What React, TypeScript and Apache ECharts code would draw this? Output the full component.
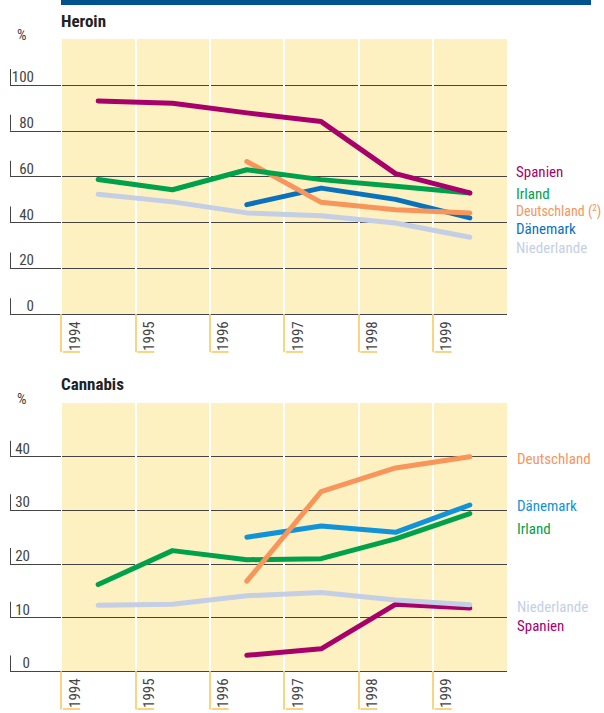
import React, { useEffect, useRef } from 'react';
import * as echarts from 'echarts';

// ---------- data ----------
const years = [1994, 1995, 1996, 1997, 1998, 1999];

const heroinSpanien = [93, 92, 87.8, 84, 61.3, 52.9];
const heroinIrland = [58.8, 54.3, 63, 58.7, 55.8, 52.9];
const heroinDeutschland = [null, null, 66.6, 48.8, 45.6, 44.2];
const heroinDaenemark = [null, null, 47.8, 55, 50.1, 42];
const heroinNiederlande = [52.3, 49, 44.2, 43, 39.8, 33.6];

const cannabisDeutschland = [null, null, 16.8, 33.5, 37.9, 40];
const cannabisDaenemark = [null, null, 25, 27.1, 25.9, 31];
const cannabisIrland = [16.2, 22.5, 20.8, 21, 24.7, 29.4];
const cannabisNiederlande = [12.3, 12.5, 14.1, 14.7, 13.3, 12.4];
const cannabisSpanien = [null, null, 3, 4.2, 12.5, 11.8];

const heroinTicks = [0, 20, 40, 60, 80, 100];
const cannabisTicks = [0, 10, 20, 30, 40];

const heroinTitle = 'Heroin';
const cannabisTitle = 'Cannabis';

// ---------- styles ----------
const FONT = "'Liberation Sans Narrow', 'Arial Narrow', 'Roboto Condensed', Roboto, sans-serif";
const COL = {
  spanien: '#a8006a',
  irland: '#00a14b',
  deutschland: '#f7955b',
  daenemarkH: '#0a72bd',
  daenemarkC: '#1193da',
  niederlande: '#c4cfe6',
  bg: '#fdf0c1',
  bracket: '#fcd37e',
  grid: '#444',
  text: '#444',
};

const bounds = years.map((y) => y - 0.5);

function line(name: string, vals: (number | null)[], color: string, gi: number) {
  return {
    type: 'line',
    name,
    xAxisIndex: gi,
    yAxisIndex: gi,
    symbol: 'none',
    data: years
      .map((y, i) => (vals[i] == null ? null : [y, vals[i]]))
      .filter((d) => d !== null),
    lineStyle: { width: 5, color, cap: 'round', join: 'round' },
    itemStyle: { color },
  };
}

function xAxis(gi: number) {
  return {
    type: 'value',
    gridIndex: gi,
    min: 1993.5,
    max: 1999.5,
    interval: 1,
    axisLine: { show: false },
    axisTick: {
      show: true,
      length: 38,
      customValues: bounds,
      lineStyle: { color: COL.bracket, width: 2 },
    },
    splitLine: { show: true, lineStyle: { color: '#ffffff', width: 2 } },
    axisLabel: {
      customValues: bounds,
      rotate: 90,
      margin: 7,
      verticalAlign: 'top',
      formatter: (v: number) => `{f|}{t|${Math.round(v + 0.5)}}`,
      rich: {
        f: { width: 2, height: 17, backgroundColor: COL.bracket },
        t: { fontSize: 15, color: COL.text, fontFamily: FONT, padding: [6, 0, 0, 0] },
      },
    },
  };
}

function yAxis(gi: number, max: number, interval: number, ticks: number[], labelW: number) {
  const n = Math.round(max / interval) + 1;
  const colors = Array.from({ length: n }, (_, i) => (i === n - 1 ? 'rgba(0,0,0,0)' : COL.grid));
  return {
    type: 'value',
    gridIndex: gi,
    min: 0,
    max,
    interval,
    axisLine: { show: false },
    axisTick: {
      show: true,
      length: 51,
      customValues: ticks,
      lineStyle: { color: COL.grid, width: 1 },
    },
    splitLine: { show: true, lineStyle: { color: colors, width: 1 } },
    axisLabel: {
      customValues: ticks,
      margin: 51,
      align: 'left',
      verticalAlign: 'bottom',
      formatter: (v: number) => `{b|}{v|${v}}`,
      rich: {
        b: { width: 1, height: 16, backgroundColor: COL.grid },
        v: { width: labelW, align: 'right', fontSize: 15, color: COL.text, fontFamily: FONT },
      },
    },
  };
}

function sideLabel(text: string, x: number, y: number, color: string, size = 15) {
  return {
    type: 'text',
    x,
    y,
    style: {
      text,
      fill: color,
      fontSize: size,
      fontFamily: FONT,
      verticalAlign: 'middle',
      textVerticalAlign: 'middle',
      rich: {
        s: { fontSize: 9, fill: color, fontFamily: FONT, padding: [0, 0, 7, 0] },
      },
    },
  };
}

export default function App() {
  const ref = useRef<HTMLDivElement>(null);
  useEffect(() => {
    if (!ref.current) return;
    document.body.style.margin = '0';
    const chart = echarts.init(ref.current, null, { renderer: 'svg' });
    const option = {
      animation: false,
      title: [
        { text: heroinTitle, left: 61, top: 12, padding: 0, textStyle: { fontSize: 17, fontWeight: 'bold', color: '#222', fontFamily: FONT } },
        { text: '%', left: 17, top: 27, padding: 0, textStyle: { fontSize: 15, fontWeight: 'normal', color: COL.text, fontFamily: FONT } },
        { text: cannabisTitle, left: 61, top: 375, padding: 0, textStyle: { fontSize: 17, fontWeight: 'bold', color: '#222', fontFamily: FONT } },
        { text: '%', left: 17, top: 391, padding: 0, textStyle: { fontSize: 15, fontWeight: 'normal', color: COL.text, fontFamily: FONT } },
      ],
      grid: [
        { left: 61, top: 39, width: 446, height: 275.3, show: true, backgroundColor: COL.bg, borderWidth: 0 },
        { left: 61, top: 403, width: 446, height: 275.3, show: true, backgroundColor: COL.bg, borderWidth: 0 },
      ],
      xAxis: [xAxis(0), xAxis(1)],
      yAxis: [yAxis(0, 120, 20, heroinTicks, 23), yAxis(1, 50, 10, cannabisTicks, 19)],
      series: [
        line('Niederlande', heroinNiederlande, COL.niederlande, 0),
        line('Dänemark', heroinDaenemark, COL.daenemarkH, 0),
        line('Deutschland', heroinDeutschland, COL.deutschland, 0),
        line('Irland', heroinIrland, COL.irland, 0),
        line('Spanien', heroinSpanien, COL.spanien, 0),
        line('Spanien', cannabisSpanien, COL.spanien, 1),
        line('Niederlande', cannabisNiederlande, COL.niederlande, 1),
        line('Irland', cannabisIrland, COL.irland, 1),
        line('Dänemark', cannabisDaenemark, COL.daenemarkC, 1),
        line('Deutschland', cannabisDeutschland, COL.deutschland, 1),
      ],
      graphic: [
        { type: 'rect', shape: { x: 61, y: 0, width: 530, height: 5 }, style: { fill: '#00538f' } },
        sideLabel('Spanien', 516, 172, COL.spanien),
        sideLabel('Irland', 516, 194, COL.irland),
        sideLabel('Deutschland ({s|2})', 516, 211, COL.deutschland, 14),
        sideLabel('Dänemark', 516, 229, COL.daenemarkH),
        sideLabel('Niederlande', 516, 248, COL.niederlande),
        sideLabel('Deutschland', 517, 459, COL.deutschland),
        sideLabel('Dänemark', 517, 506, COL.daenemarkC),
        sideLabel('Irland', 517, 529, COL.irland),
        sideLabel('Niederlande', 517, 607, COL.niederlande),
        sideLabel('Spanien', 517, 626, COL.spanien),
      ],
    };
    chart.setOption(option as any);
    return () => chart.dispose();
  }, []);
  return <div ref={ref} style={{ position: 'absolute', left: 0, top: 0, width: 604, height: 713 }} />;
}
